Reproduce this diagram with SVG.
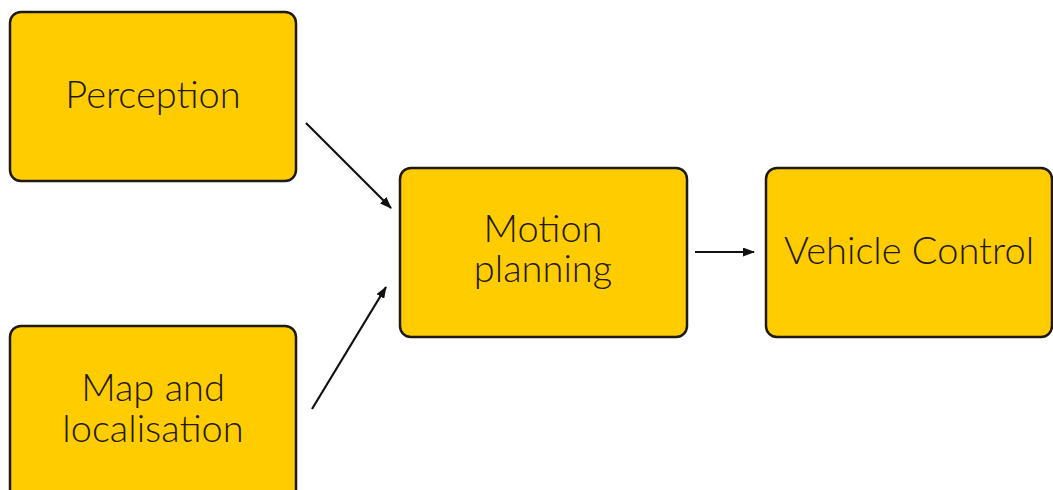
<svg xmlns="http://www.w3.org/2000/svg" width="1053" height="490" viewBox="0 0 1053 490">
<defs>
<style>
.box{fill:#FFCC00;stroke:#1e1a10;stroke-width:2.5}
.t{font-family:Lato,"Open Sans","Liberation Sans",sans-serif;font-size:38px;font-weight:300;fill:#1f1a08;text-anchor:middle}
.c{stroke:#111;stroke-width:2.2;fill:none}
</style>
<marker id="ah" markerWidth="12" markerHeight="9" refX="11" refY="4.5" orient="auto" markerUnits="userSpaceOnUse">
<path d="M0,0 L12,4.5 L0,9 Z" fill="#111"/>
</marker>
</defs>
<rect width="1053" height="490" fill="#fff"/>
<g id="perception">
<rect class="box" x="10" y="12" width="286" height="169" rx="11"/>
<text class="t" x="153" y="108">Perception</text>
</g>
<g id="map">
<rect class="box" x="10" y="326" width="286" height="180" rx="11"/>
<text class="t" x="153" y="401">Map and<tspan x="153" dy="41">localisation</tspan></text>
</g>
<g id="motion">
<rect class="box" x="400" y="168" width="287" height="169" rx="11"/>
<text class="t" x="543" y="242">Motion<tspan x="543" dy="40">planning</tspan></text>
</g>
<g id="vehicle">
<rect class="box" x="766" y="168" width="286" height="169" rx="11"/>
<text class="t" x="909" y="264">Vehicle Control</text>
</g>
<g id="connectors">
<line class="c" x1="306" y1="123" x2="391" y2="208" marker-end="url(#ah)"/>
<line class="c" x1="312" y1="409" x2="386" y2="287" marker-end="url(#ah)"/>
<line class="c" x1="695" y1="252" x2="754" y2="252" marker-end="url(#ah)"/>
</g>
</svg>
